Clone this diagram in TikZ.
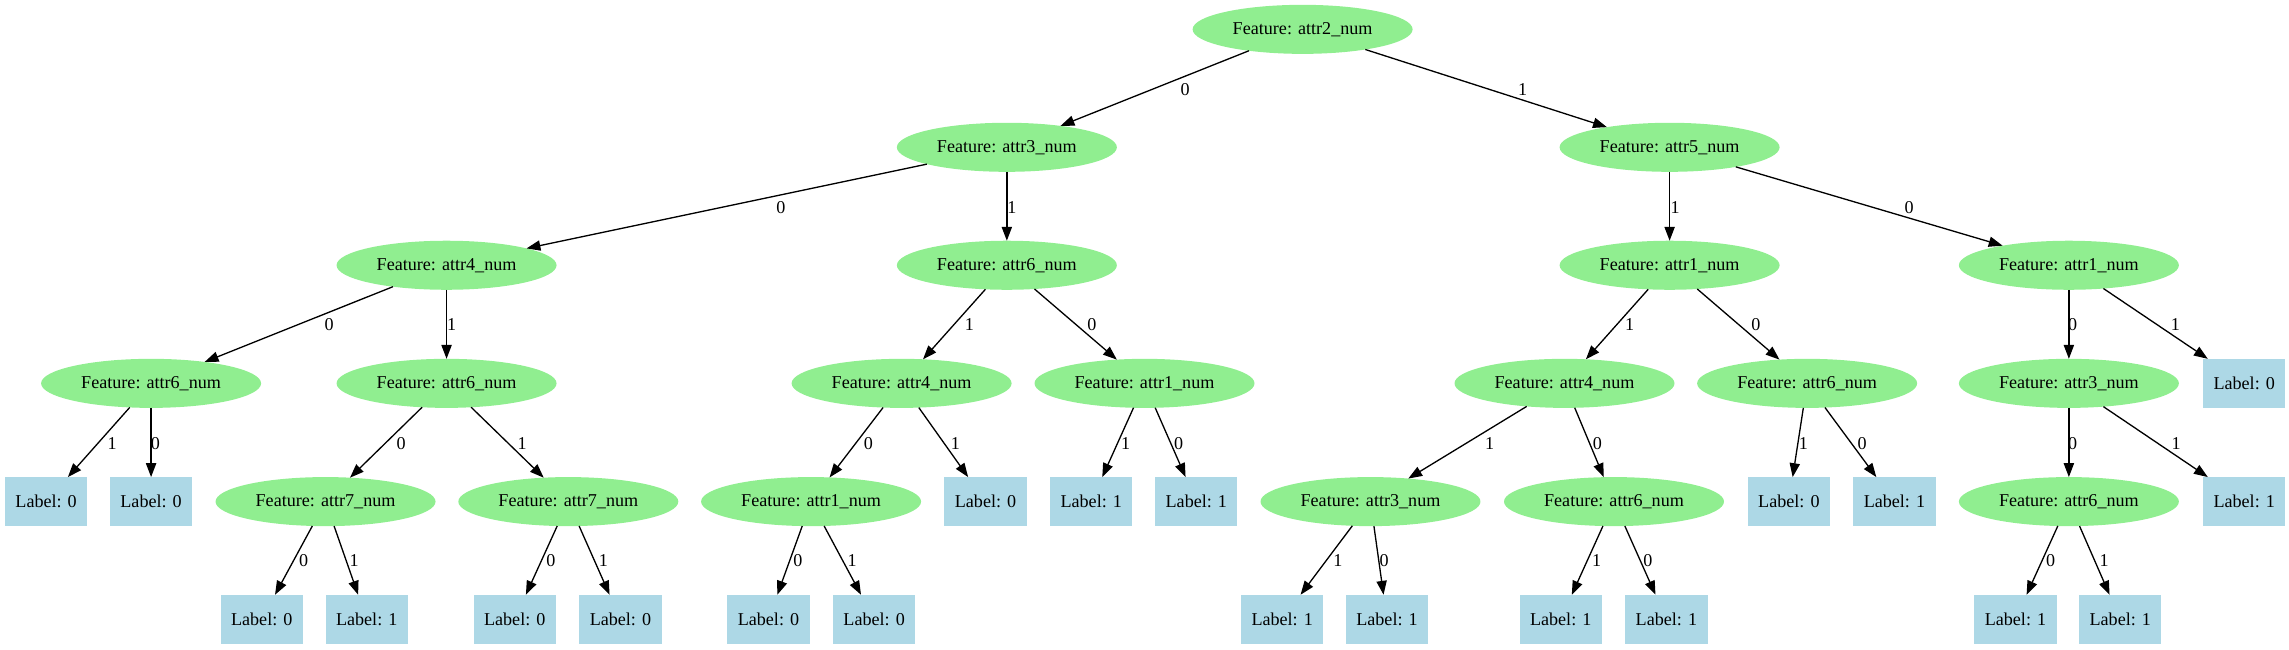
\documentclass[tikz,border=0pt]{standalone}
\usepackage{fontspec}
\setmainfont{Liberation Serif}
\usetikzlibrary{shapes.geometric,arrows.meta}
\definecolor{featfill}{HTML}{90EE90}
\definecolor{leaffill}{HTML}{ADD8E6}
\tikzset{
  feat/.style={ellipse, fill=featfill, draw=none, minimum width=150.7pt, minimum height=33.6pt, inner sep=0pt, outer sep=0pt, font=\fontsize{12.4}{14}\selectfont},
  leaf/.style={rectangle, fill=leaffill, draw=none, minimum width=56.3pt, minimum height=33.6pt, inner sep=0pt, outer sep=0pt, font=\fontsize{12.4}{14}\selectfont},
  edge/.style={draw=black, line width=0.9pt, -{Triangle[length=9.5pt,width=7pt]}},
  elab/.style={inner sep=0pt, font=\fontsize{12.4}{14}\selectfont}
}
\begin{document}
\begin{tikzpicture}[x=1pt,y=-1pt]
\useasboundingbox (0,0) rectangle (1568,444.6);
% level 0
\node[feat] (r) at (892.3,20.1) {Feature: attr2\_num};
% level 1
\node[feat] (a) at (689.7,100.9) {Feature: attr3\_num};
\node[feat] (b) at (1143.7,100.9) {Feature: attr5\_num};
% level 2
\node[feat] (c1) at (305.9,181.7) {Feature: attr4\_num};
\node[feat] (c2) at (689.7,181.7) {Feature: attr6\_num};
\node[feat] (c3) at (1143.7,181.7) {Feature: attr1\_num};
\node[feat] (c4) at (1417.2,181.7) {Feature: attr1\_num};
% level 3
\node[feat] (d1) at (103.5,262.6) {Feature: attr6\_num};
\node[feat] (d2) at (305.9,262.6) {Feature: attr6\_num};
\node[feat] (d3) at (617.6,262.6) {Feature: attr4\_num};
\node[feat] (d4) at (784.0,262.6) {Feature: attr1\_num};
\node[feat] (d5) at (1071.7,262.6) {Feature: attr4\_num};
\node[feat] (d6) at (1237.9,262.6) {Feature: attr6\_num};
\node[feat] (d7) at (1417.2,262.6) {Feature: attr3\_num};
\node[leaf] (d8) at (1537.3,262.6) {Label: 0};
% level 4
\node[leaf] (e1) at (31.6,343.6) {Label: 0};
\node[leaf] (e2) at (103.5,343.6) {Label: 0};
\node[feat] (e3) at (223.0,343.6) {Feature: attr7\_num};
\node[feat] (e4) at (389.3,343.6) {Feature: attr7\_num};
\node[feat] (e5) at (555.6,343.6) {Feature: attr1\_num};
\node[leaf] (e6) at (675.1,343.6) {Label: 0};
\node[leaf] (e7) at (747.5,343.6) {Label: 1};
\node[leaf] (e8) at (819.5,343.6) {Label: 1};
\node[feat] (e9) at (938.8,343.6) {Feature: attr3\_num};
\node[feat] (e10) at (1105.6,343.6) {Feature: attr6\_num};
\node[leaf] (e11) at (1225.4,343.6) {Label: 0};
\node[leaf] (e12) at (1297.7,343.6) {Label: 1};
\node[feat] (e13) at (1417.2,343.6) {Feature: attr6\_num};
\node[leaf] (e14) at (1537.3,343.6) {Label: 1};
% level 5
\node[leaf] (f1) at (179.3,424.2) {Label: 0};
\node[leaf] (f2) at (251.2,424.2) {Label: 1};
\node[leaf] (f3) at (352.6,424.2) {Label: 0};
\node[leaf] (f4) at (425.0,424.2) {Label: 0};
\node[leaf] (f5) at (526.4,424.2) {Label: 0};
\node[leaf] (f6) at (598.8,424.2) {Label: 0};
\node[leaf] (f7) at (878.3,424.2) {Label: 1};
\node[leaf] (f8) at (950.1,424.2) {Label: 1};
\node[leaf] (f9) at (1069.1,424.2) {Label: 1};
\node[leaf] (f10) at (1141.5,424.2) {Label: 1};
\node[leaf] (f11) at (1380.6,424.2) {Label: 1};
\node[leaf] (f12) at (1452.4,424.2) {Label: 1};
% edges
\draw[edge] (r) -- (a);
\draw[edge] (r) -- (b);
\draw[edge] (a) -- (c1);
\draw[edge] (a) -- (c2);
\draw[edge] (b) -- (c3);
\draw[edge] (b) -- (c4);
\draw[edge] (c1) -- (d1);
\draw[edge] (c1) -- (d2);
\draw[edge] (c2) -- (d3);
\draw[edge] (c2) -- (d4);
\draw[edge] (c3) -- (d5);
\draw[edge] (c3) -- (d6);
\draw[edge] (c4) -- (d7);
\draw[edge] (c4) -- (d8);
\draw[edge] (d1) -- (e1);
\draw[edge] (d1) -- (e2);
\draw[edge] (d2) -- (e3);
\draw[edge] (d2) -- (e4);
\draw[edge] (d3) -- (e5);
\draw[edge] (d3) -- (e6);
\draw[edge] (d4) -- (e7);
\draw[edge] (d4) -- (e8);
\draw[edge] (d5) -- (e9);
\draw[edge] (d5) -- (e10);
\draw[edge] (d6) -- (e11);
\draw[edge] (d6) -- (e12);
\draw[edge] (d7) -- (e13);
\draw[edge] (d7) -- (e14);
\draw[edge] (e3) -- (f1);
\draw[edge] (e3) -- (f2);
\draw[edge] (e4) -- (f3);
\draw[edge] (e4) -- (f4);
\draw[edge] (e5) -- (f5);
\draw[edge] (e5) -- (f6);
\draw[edge] (e9) -- (f7);
\draw[edge] (e9) -- (f8);
\draw[edge] (e10) -- (f9);
\draw[edge] (e10) -- (f10);
\draw[edge] (e13) -- (f11);
\draw[edge] (e13) -- (f12);
% edge labels
\node[elab] (lra) at (811.9,61.2) {0};
\node[elab] (lrb) at (1043.0,61.2) {1};
\node[elab] (lac1) at (535.0,142.0) {0};
\node[elab] (lac2) at (693.2,142.0) {1};
\node[elab] (lbc3) at (1147.5,142.0) {1};
\node[elab] (lbc4) at (1307.8,142.0) {0};
\node[elab] (lc1d1) at (225.5,222.4) {0};
\node[elab] (lc1d2) at (309.4,222.4) {1};
\node[elab] (lc2d3) at (664.1,222.4) {1};
\node[elab] (lc2d4) at (748.0,222.4) {0};
\node[elab] (lc3d5) at (1116.4,222.4) {1};
\node[elab] (lc3d6) at (1202.8,222.4) {0};
\node[elab] (lc4d7) at (1419.8,222.4) {0};
\node[elab] (lc4d8) at (1490.1,222.4) {1};
\node[elab] (ld1e1) at (76.9,303.7) {1};
\node[elab] (ld1e2) at (106.5,303.7) {0};
\node[elab] (ld2e3) at (274.8,303.7) {0};
\node[elab] (ld2e4) at (357.7,303.7) {1};
\node[elab] (ld3e5) at (594.8,303.7) {0};
\node[elab] (ld3e6) at (654.5,303.7) {1};
\node[elab] (ld4e7) at (771.1,303.7) {1};
\node[elab] (ld4e8) at (807.4,303.7) {0};
\node[elab] (ld5e9) at (1020.4,303.7) {1};
\node[elab] (ld5e10) at (1094.3,303.7) {0};
\node[elab] (ld6e11) at (1235.4,303.7) {1};
\node[elab] (ld6e12) at (1275.6,303.7) {0};
\node[elab] (ld7e13) at (1419.8,303.7) {0};
\node[elab] (ld7e14) at (1490.6,303.7) {1};
\node[elab] (le3f1) at (208.0,384.0) {0};
\node[elab] (le3f2) at (242.6,384.0) {1};
\node[elab] (le4f3) at (377.3,384.0) {0};
\node[elab] (le4f4) at (413.4,384.0) {1};
\node[elab] (le5f5) at (546.5,384.0) {0};
\node[elab] (le5f6) at (583.7,384.0) {1};
\node[elab] (le9f7) at (916.4,384.0) {1};
\node[elab] (le9f8) at (948.1,384.0) {0};
\node[elab] (le10f9) at (1093.8,384.0) {1};
\node[elab] (le10f10) at (1128.9,384.0) {0};
\node[elab] (le13f11) at (1404.7,384.0) {0};
\node[elab] (le13f12) at (1441.4,384.0) {1};
\end{tikzpicture}
\end{document}
